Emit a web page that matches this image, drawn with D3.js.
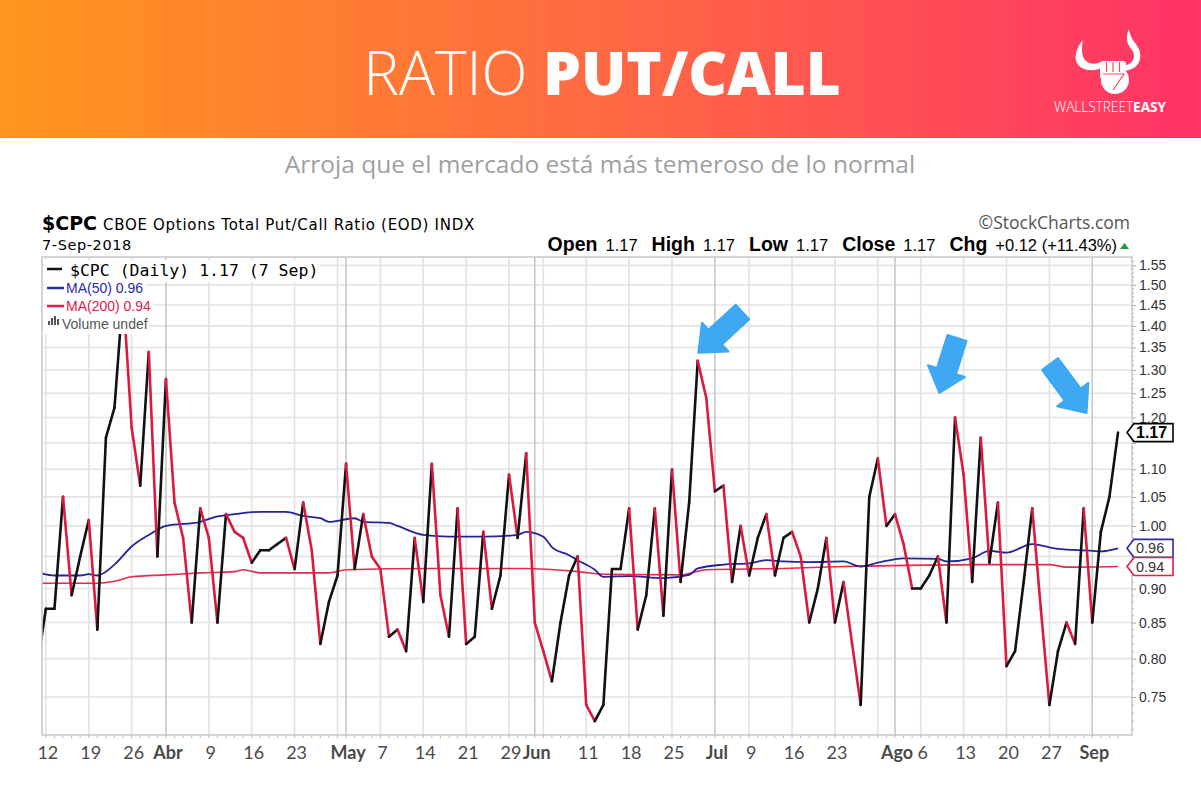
<!DOCTYPE html>
<html><head><meta charset="utf-8">
<script src="https://cdn.jsdelivr.net/npm/d3@7/dist/d3.min.js"></script>
<style>body{margin:0;background:#fff;}svg{display:block}</style>
</head><body>
<svg id="c" width="1201" height="801"></svg>
<script>
// ---------- DATA ----------
const tradeDates = [
"03-09",
"03-12","03-13","03-14","03-15","03-16",
"03-19","03-20","03-21","03-22","03-23",
"03-26","03-27","03-28","03-29",
"04-02","04-03","04-04","04-05","04-06",
"04-09","04-10","04-11","04-12","04-13",
"04-16","04-17","04-18","04-19","04-20",
"04-23","04-24","04-25","04-26","04-27",
"04-30","05-01","05-02","05-03","05-04",
"05-07","05-08","05-09","05-10","05-11",
"05-14","05-15","05-16","05-17","05-18",
"05-21","05-22","05-23","05-24","05-25",
"05-29","05-30","05-31","06-01",
"06-04","06-05","06-06","06-07","06-08",
"06-11","06-12","06-13","06-14","06-15",
"06-18","06-19","06-20","06-21","06-22",
"06-25","06-26","06-27","06-28","06-29",
"07-02","07-03","07-05","07-06",
"07-09","07-10","07-11","07-12","07-13",
"07-16","07-17","07-18","07-19","07-20",
"07-23","07-24","07-25","07-26","07-27",
"07-30","07-31","08-01","08-02","08-03",
"08-06","08-07","08-08","08-09","08-10",
"08-13","08-14","08-15","08-16","08-17",
"08-20","08-21","08-22","08-23","08-24",
"08-27","08-28","08-29","08-30","08-31",
"09-04","09-05","09-06","09-07"];

const cpcValues = [
0.79,
0.87,0.87,1.05,0.89,0.95,
1.01,0.84,1.16,1.22,1.48,
1.18,1.07,1.34,0.95,
1.28,1.04,0.98,0.85,1.03,
0.98,0.85,1.02,0.99,0.98,
0.94,0.96,0.96,0.97,0.98,
0.93,1.04,0.96,0.82,0.88,
0.92,1.11,0.93,1.02,0.95,
0.93,0.83,0.84,0.81,0.98,
0.88,1.11,0.89,0.83,1.03,
0.82,0.83,0.99,0.87,0.92,
1.09,0.98,1.13,0.85,
0.81,0.77,0.85,0.92,0.95,
0.74,0.72,0.74,0.93,0.93,
1.03,0.84,0.89,1.03,0.86,
1.10,0.91,1.04,1.32,1.24,
1.06,1.07,0.91,1.00,
0.92,0.98,1.02,0.92,0.98,
0.99,0.95,0.85,0.90,0.98,
0.85,0.91,0.82,0.74,1.05,
1.12,1.00,1.02,0.97,0.90,
0.90,0.92,0.95,0.85,1.20,
1.09,0.91,1.16,0.94,1.04,
0.79,0.81,0.91,1.03,0.87,
0.74,0.81,0.85,0.82,1.03,
0.85,0.99,1.05,1.17];

const ma50Idx = [0,2,5,6,7,9,11,13,15,19,21,23,26,29,31,33,34,37,38,41,42,45,48,52,56,57,59,60,62,63,65,66,69,73,76,77,80,83,85,87,90,94,96,98,101,105,106,109,111,113,116,119,123,124,126];
const ma50Values = [0.925,0.92,0.92,0.922,0.92,0.937,0.966,0.985,1.0,1.007,1.016,1.02,1.024,1.024,1.017,1.013,1.007,1.013,1.007,1.005,1.0,0.985,0.982,0.982,0.985,0.99,0.982,0.965,0.952,0.944,0.929,0.918,0.919,0.916,0.921,0.931,0.937,0.939,0.944,0.942,0.941,0.942,0.934,0.94,0.947,0.946,0.942,0.947,0.959,0.956,0.97,0.962,0.959,0.958,0.963];

const ma200Idx = [0,7,9,11,15,19,23,24,26,34,36,46,57,63,66,75,78,87,94,98,110,118,120,126];
const ma200Values = [0.908,0.908,0.911,0.918,0.921,0.924,0.926,0.929,0.924,0.924,0.929,0.931,0.931,0.926,0.922,0.921,0.929,0.931,0.934,0.935,0.937,0.937,0.933,0.934];

const yTickValues = [0.75,0.80,0.85,0.90,0.95,1.00,1.05,1.10,1.15,1.20,1.25,1.30,1.35,1.40,1.45,1.50,1.55];
const yTickHidden = [0.95,1.15]; // covered by last-value boxes in the picture
const xTickDates  = ["03-12","03-19","03-26","04-02","04-09","04-16","04-23","05-01","05-07","05-14","05-21","05-29","06-01","06-11","06-18","06-25","07-02","07-09","07-16","07-23","08-01","08-06","08-13","08-20","08-27","09-04"];
const xTickLabels = ["12","19","26","Abr","9","16","23","May","7","14","21","29","Jun","11","18","25","Jul","9","16","23","Ago","6","13","20","27","Sep"];
const monthStarts = ["04-02","05-01","06-01","07-02","08-01","09-04"];
const weekStarts  = ["03-12","03-19","03-26","04-09","04-16","04-23","04-30","05-07","05-14","05-21","05-29","06-04","06-11","06-18","06-25","07-09","07-16","07-23","07-30","08-06","08-13","08-20","08-27"];
const lastLabels = [{text:"1.17", value:1.17, color:"#000", bold:true},
                    {text:"0.96", value:0.963, color:"#2a2aa8", bold:false},
                    {text:"0.94", value:0.934, color:"#e0204a", bold:false}];
const arrowSpecs = [ // tail -> tip (picture annotations)
  {tail:[742.5,312], tip:[698.3,352.7]},
  {tail:[957,338], tip:[939.5,393]},
  {tail:[1050,364], tip:[1086.5,413]}];

// ---------- SETUP ----------
const svg = d3.select("#c");
const W = 1201;
const P = {left:42, right:1132, top:257, bottom:735};
const x = d3.scalePoint().domain(tradeDates).range([37.3,1118]);
const y = d3.scaleLog().domain([0.7035,1.572]).range([P.bottom,P.top]);

// Header
const defs = svg.append("defs");
const g1 = defs.append("linearGradient").attr("id","hdr").attr("x1","0").attr("x2","1").attr("y1","0").attr("y2","0");
g1.append("stop").attr("offset","0").attr("stop-color","#ff961e");
g1.append("stop").attr("offset","0.5").attr("stop-color","#ff6a42");
g1.append("stop").attr("offset","1").attr("stop-color","#ff3367");
svg.append("rect").attr("x",0).attr("y",0).attr("width",W).attr("height",138).attr("fill","url(#hdr)");

const title = svg.append("text").attr("x",602).attr("y",95).attr("text-anchor","middle")
  .attr("fill","#fff").style("font-family","'Open Sans', sans-serif").style("font-size","60px");
title.append("tspan").style("font-weight","300").text("RATIO ");
title.append("tspan").style("font-weight","800").text("PUT/CALL");

// Logo
const logo = svg.append("g").attr("fill","#fff");
logo.append("path").attr("d","M1082.5,40 C1074,52 1073,63 1082,68 C1090,72 1098,70 1103,67 L1101,62 C1095,65 1088,64 1085,60 C1081,55 1082,48 1082.5,40 Z");
logo.append("path").attr("d","M1129,29 C1125,38 1127,44 1132,50 C1136,56 1134,63 1126,65 L1123,66 L1124,71 C1136,70 1142,62 1140,52 C1138,44 1130,40 1129,29 Z");
logo.append("circle").attr("cx",1115).attr("cy",80).attr("r",14);
logo.append("rect").attr("x",1100).attr("y",61).attr("width",26).attr("height",18).attr("rx",3);
const fl = logo.append("g").attr("stroke","#ff4a5c").attr("stroke-width",1.2).attr("fill","none");
[1106.5,1113,1119.5].forEach(xx=>fl.append("line").attr("x1",xx).attr("x2",xx).attr("y1",62).attr("y2",72));
fl.append("path").attr("d","M1103,74 L1124,74 L1113,90");
const lt = svg.append("text").attr("x",1110).attr("y",112).attr("text-anchor","middle").attr("fill","#fff")
  .attr("textLength",112).attr("lengthAdjust","spacingAndGlyphs")
  .style("font-family","'Open Sans', sans-serif").style("font-size","14px");
lt.append("tspan").style("font-weight","300").text("WALLSTREET");
lt.append("tspan").style("font-weight","700").text("EASY");

// Subtitle
svg.append("text").attr("x",600).attr("y",173).attr("text-anchor","middle").attr("fill","#a0a0a0")
  .style("font-family","'Open Sans', sans-serif").style("font-size","24.5px")
  .text("Arroja que el mercado está más temeroso de lo normal");

// Chart title block
const t1 = svg.append("text").attr("x",42).attr("y",230).attr("fill","#000");
t1.append("tspan").style("font-family","'DejaVu Sans', sans-serif").style("font-weight","700").style("font-size","19px").text("$CPC");
t1.append("tspan").attr("dx",6).style("font-family","'DejaVu Sans', sans-serif").style("font-size","15px").style("letter-spacing","0.7px").text("CBOE Options Total Put/Call Ratio (EOD)  INDX");
svg.append("text").attr("x",42).attr("y",250).style("font-family","'DejaVu Sans', sans-serif").style("font-size","14.5px").style("letter-spacing","0.6px").attr("fill","#000").text("7-Sep-2018");
svg.append("text").attr("x",1130).attr("y",229).attr("text-anchor","end").attr("fill","#555")
  .style("font-family","'Open Sans', sans-serif").style("font-size","17.5px").text("©StockCharts.com");
const ohl = svg.append("text").attr("x",1117).attr("y",251).attr("text-anchor","end").attr("fill","#000")
  .style("font-family","'Liberation Sans', Arial, sans-serif");
[["Open","1.17"],["High","1.17"],["Low","1.17"],["Close","1.17"],["Chg","+0.12 (+11.43%)"]].forEach((p,k)=>{
  ohl.append("tspan").attr("dx",k?14:0).style("font-weight","700").style("font-size","19.5px").text(p[0]);
  ohl.append("tspan").attr("dx",8).style("font-size","16.5px").text(p[1]);
});
svg.append("path").attr("d","M1120,249 L1129,249 L1124.5,243 Z").attr("fill","#1a9a3a");

// Plot background & grid
svg.append("rect").attr("x",P.left).attr("y",P.top).attr("width",P.right-P.left).attr("height",P.bottom-P.top).attr("fill","#fff");
const grid = svg.append("g");
grid.selectAll(".hg").data(yTickValues).join("line")
  .attr("x1",P.left).attr("x2",P.right).attr("y1",d=>y(d)).attr("y2",d=>y(d))
  .attr("stroke","#e4e4e4").attr("stroke-width",1.6);
grid.selectAll(".wg").data(weekStarts).join("line")
  .attr("x1",d=>x(d)).attr("x2",d=>x(d)).attr("y1",P.top).attr("y2",P.bottom)
  .attr("stroke","#e2e2e2").attr("stroke-width",1.6);
grid.selectAll(".mg").data(monthStarts).join("line")
  .attr("x1",d=>x(d)).attr("x2",d=>x(d)).attr("y1",P.top).attr("y2",P.bottom)
  .attr("stroke","#c8c8c8").attr("stroke-width",1.6);

// clip
defs.append("clipPath").attr("id","clip").append("rect").attr("x",P.left).attr("y",P.top).attr("width",P.right-P.left).attr("height",P.bottom-P.top);
const plotG = svg.append("g").attr("clip-path","url(#clip)");

// MA lines
const lineGen = d3.line().x(d=>x(tradeDates[d[0]])).y(d=>y(d[1])).curve(d3.curveMonotoneX);
plotG.append("path").datum(ma200Idx.map((d,k)=>[d,ma200Values[k]])).attr("d",lineGen)
  .attr("fill","none").attr("stroke","#e8294f").attr("stroke-width",1.6);
plotG.append("path").datum(ma50Idx.map((d,k)=>[d,ma50Values[k]])).attr("d",lineGen)
  .attr("fill","none").attr("stroke","#23239c").attr("stroke-width",1.8);

// Price line, colour coded up (black) / down (red)
const segs = d3.range(cpcValues.length-1).map(i=>({a:i,b:i+1,up:cpcValues[i+1]>=cpcValues[i]}));
plotG.selectAll(".seg").data(segs).join("line")
  .attr("x1",d=>x(tradeDates[d.a])).attr("y1",d=>y(cpcValues[d.a]))
  .attr("x2",d=>x(tradeDates[d.b])).attr("y2",d=>y(cpcValues[d.b]))
  .attr("stroke",d=>d.up?"#111":"#dc1a3f").attr("stroke-width",2.6).attr("stroke-linecap","round");

// Plot border
svg.append("rect").attr("x",P.left).attr("y",P.top).attr("width",P.right-P.left).attr("height",P.bottom-P.top)
  .attr("fill","none").attr("stroke","#c8c8c8").attr("stroke-width",1.5);

// bottom day ticks
svg.append("g").selectAll("line").data(tradeDates.filter(d=>x(d)>=P.left)).join("line")
  .attr("x1",d=>x(d)).attr("x2",d=>x(d)).attr("y1",P.bottom).attr("y2",P.bottom+3)
  .attr("stroke","#bbb").attr("stroke-width",1);

// Right axis
const yAxis = d3.axisRight(y).tickValues(yTickValues)
  .tickFormat(d=>yTickHidden.some(h=>Math.abs(h-d)<1e-6)?"":d3.format(".2f")(d)).tickSize(4).tickPadding(3);
const ya = svg.append("g").attr("transform",`translate(${P.right},0)`).call(yAxis);
ya.select(".domain").remove();
ya.selectAll("line").attr("stroke","#aaa");
ya.selectAll("text").attr("fill","#333").style("font-family","'Liberation Sans', Arial, sans-serif").style("font-size","14px");
const minor = d3.range(71,157).map(d=>d/100).filter(d=>!yTickValues.some(t=>Math.abs(t-d)<1e-6));
svg.append("g").selectAll("line").data(minor).join("line")
  .attr("x1",P.right).attr("x2",P.right+2).attr("y1",d=>y(d)).attr("y2",d=>y(d)).attr("stroke","#bbb");

// Bottom axis labels
const xa = svg.append("g");
xa.selectAll("text").data(xTickDates).join("text")
  .attr("x",d=>x(d)+2).attr("y",759).attr("text-anchor","middle").attr("fill","#4a4a4a")
  .style("font-family","'Lato', sans-serif").style("font-size","18px")
  .style("font-weight",(d,k)=>/^[A-Z]/.test(xTickLabels[k])?"700":"400")
  .text((d,k)=>xTickLabels[k]);

// Last value labels
lastLabels.forEach(l=>{
  const cy = y(l.value), tip = P.right-5, r = P.right+41;
  svg.append("path").attr("d",`M${tip},${cy} L${tip+7},${cy-9} L${r},${cy-9} L${r},${cy+9} L${tip+7},${cy+9} Z`)
    .attr("fill","#fff").attr("stroke",l.color).attr("stroke-width",1.6);
  svg.append("text").attr("x",P.right+4).attr("y",cy+5).attr("fill",l.bold?"#000":"#333")
    .style("font-family","'Liberation Sans', Arial, sans-serif").style("font-size",l.bold?"16px":"14.5px")
    .style("font-weight",l.bold?"700":"400").text(l.text);
});

// Legend
const legend = [
  {txt:"$CPC (Daily) 1.17 (7 Sep)", col:"#000", font:"'DejaVu Sans Mono', monospace", size:"16.5px", y:276, ly:269},
  {txt:"MA(50) 0.96", col:"#2a2aa8", font:"'Liberation Sans', Arial, sans-serif", size:"14px", y:293, ly:288},
  {txt:"MA(200) 0.94", col:"#e0204a", font:"'Liberation Sans', Arial, sans-serif", size:"14px", y:311, ly:306},
  {txt:"Volume undef", col:"#555", font:"'Liberation Sans', Arial, sans-serif", size:"14px", y:329, ly:null}];
legend.forEach(l=>{
  const t = svg.append("text").attr("x",l.ly!==null?(l.txt[0]==="$"?70:66):62).attr("y",l.y).attr("fill",l.col)
    .style("font-family",l.font).style("font-size",l.size).text(l.txt);
  const bb = t.node().getBBox();
  svg.insert("rect", ()=>t.node()).attr("x",44).attr("y",bb.y-1).attr("width",bb.x+bb.width-44+2).attr("height",bb.height+3).attr("fill","#fff");
  if(l.ly!==null){
    svg.append("line").attr("x1",47).attr("x2",l.txt[0]==="$"?62:64).attr("y1",l.ly).attr("y2",l.ly)
      .attr("stroke",l.col==="#000"?"#111":l.col).attr("stroke-width",2.5);
  } else {
    [0,1,2,3].forEach(k=>svg.append("rect").attr("x",48+k*3).attr("y",325-[4,7,9,6][k]).attr("width",2).attr("height",[4,7,9,6][k]).attr("fill","#555"));
  }
});

// Annotation arrows
function arrowPath(tail, tip, shaftW, headW, headL){
  const dx = tip[0]-tail[0], dy = tip[1]-tail[1], L = Math.hypot(dx,dy);
  const ux = dx/L, uy = dy/L, px = -uy, py = ux;
  const bx = tip[0]-ux*headL, by = tip[1]-uy*headL;
  const pts = [
    [tail[0]+px*shaftW/2, tail[1]+py*shaftW/2],
    [bx+px*shaftW/2, by+py*shaftW/2],
    [bx+px*headW/2, by+py*headW/2],
    tip,
    [bx-px*headW/2, by-py*headW/2],
    [bx-px*shaftW/2, by-py*shaftW/2],
    [tail[0]-px*shaftW/2, tail[1]-py*shaftW/2]];
  return "M"+pts.map(p=>p.join(",")).join("L")+"Z";
}
arrowSpecs.forEach(a=>{
  svg.append("path").attr("d",arrowPath(a.tail,a.tip,20,39,23)).attr("fill","#3ea8f2")
    .attr("stroke","#3ea8f2").attr("stroke-width",2).attr("stroke-linejoin","round");
});
</script>
</body></html>
